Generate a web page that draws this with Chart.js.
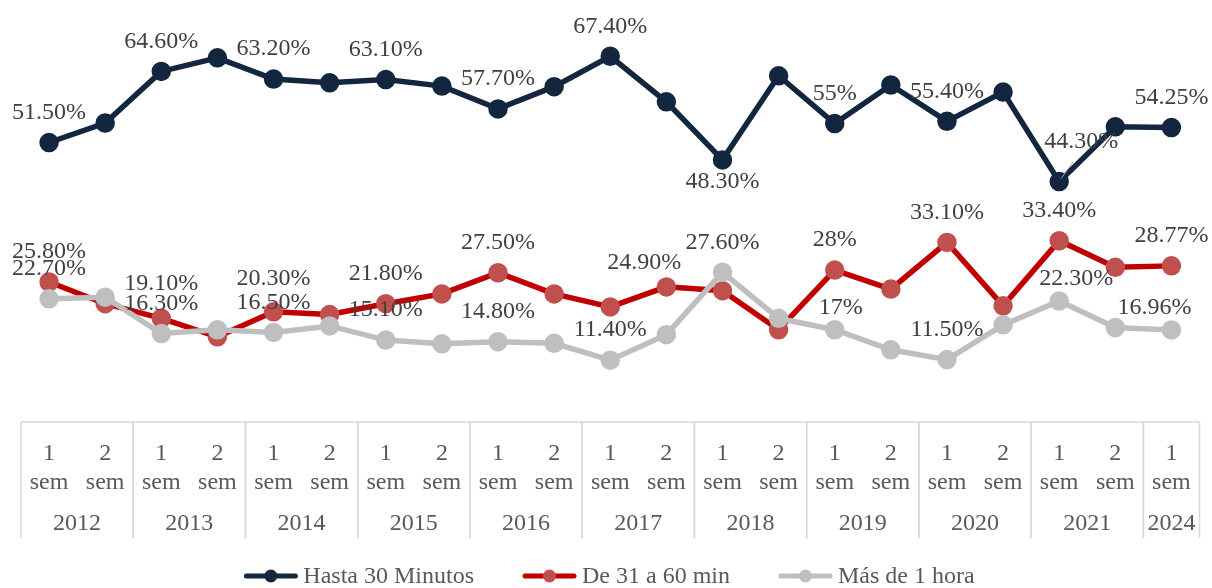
<!DOCTYPE html>
<html>
<head>
<meta charset="utf-8">
<script src="https://cdn.jsdelivr.net/npm/chart.js@4"></script>
<style>
  html, body { margin: 0; padding: 0; background: #ffffff; }
  #wrap { width: 1212px; height: 588px; }
</style>
</head>
<body>
<div id="wrap"><canvas id="myChart" width="1212" height="588"></canvas></div>
<script>
// semester / year of every point
const semesters = ['1','2','1','2','1','2','1','2','1','2','1','2','1','2','1','2','1','2','1','2','1'];
const pointYears = ['2012','2012','2013','2013','2014','2014','2015','2015','2016','2016',
                    '2017','2017','2018','2018','2019','2019','2020','2020','2021','2021','2024'];

// series values (%)
const hasta30 = [51.5, 55.1, 64.6, 67.1, 63.2, 62.5, 63.1, 61.9, 57.7, 61.8, 67.4,
                 59.0, 48.3, 63.8, 55.0, 62.1, 55.4, 60.8, 44.3, 54.4, 54.25];
const de31a60 = [25.8, 21.8, 19.1, 15.7, 20.3, 19.8, 21.8, 23.6, 27.5, 23.6, 21.2,
                 24.9, 24.2, 17.0, 28.0, 24.5, 33.1, 21.4, 33.4, 28.5, 28.77];
const masDe1h = [22.7, 23.0, 16.3, 17.0, 16.5, 17.7, 15.1, 14.4, 14.8, 14.5, 11.4,
                 16.1, 27.6, 19.1, 17.0, 13.3, 11.5, 17.9, 22.3, 17.4, 16.96];

// which points carry a value label
const labeled30 = [0,2,4,6,8,10,12,14,16,18,20];
const labeled60 = [0,2,4,6,8,11,14,16,18,20];
const labeled1h = [0,2,4,6,8,10,12,14,16,18,20];

// label nudges (dx, dy from point), default is above
const nudge = {
  '0-12': [0, 22], '0-18': [22, -40],
  '1-2': [0, -35], '1-4': [0, -33], '1-11': [-22, -24],
  '2-14': [6, -22], '2-18': [17, -22], '2-20': [-17, -22]
};

const FONT = '"Liberation Serif", "DejaVu Serif", serif';
const SIZE = 24;

function fmt(v){
  return Number.isInteger(v) ? v + '%' : v.toFixed(2) + '%';
}

const labelPlugin = {
  id: 'valueLabels',
  afterDatasetsDraw(chart){
    const ctx = chart.ctx;
    const lists = [labeled30, labeled60, labeled1h];
    ctx.save();
    ctx.font = SIZE + 'px ' + FONT;
    ctx.fillStyle = '#404040';
    ctx.textAlign = 'center';
    ctx.textBaseline = 'middle';
    chart.data.datasets.forEach(function(ds, d){
      const meta = chart.getDatasetMeta(d);
      lists[d].forEach(function(i){
        const pt = meta.data[i];
        const n = nudge[d + '-' + i] || [0, -30];
        if (d === 0 && i === 18) {
          ctx.strokeStyle = '#a6a6a6';
          ctx.lineWidth = 1;
          ctx.beginPath();
          ctx.moveTo(pt.x + 2, pt.y - 3);
          ctx.lineTo(pt.x + 14, pt.y - 20);
          ctx.stroke();
        }
        ctx.fillText(fmt(ds.data[i]), pt.x + n[0], pt.y + n[1]);
      });
    });
    ctx.restore();
  }
};

const axisBoxPlugin = {
  id: 'axisBox',
  afterDraw(chart){
    const ctx = chart.ctx;
    const xs = chart.scales.x;
    const area = chart.chartArea;
    const half = (xs.getPixelForValue(1) - xs.getPixelForValue(0)) / 2;
    const top = area.bottom;
    const bottom = 538;
    ctx.save();
    ctx.strokeStyle = '#d9d9d9';
    ctx.lineWidth = 1.5;
    ctx.beginPath();
    ctx.moveTo(area.left, top);
    ctx.lineTo(area.right, top);
    ctx.stroke();

    ctx.font = SIZE + 'px ' + FONT;
    ctx.fillStyle = '#595959';
    ctx.textAlign = 'center';
    ctx.textBaseline = 'middle';
    let start = 0;
    for (let i = 1; i <= pointYears.length; i++) {
      if (i === pointYears.length || pointYears[i] !== pointYears[start]) {
        const x0 = xs.getPixelForValue(start) - half;
        const x1 = xs.getPixelForValue(i - 1) + half;
        ctx.beginPath();
        ctx.moveTo(x0, top); ctx.lineTo(x0, bottom);
        ctx.moveTo(x1, top); ctx.lineTo(x1, bottom);
        ctx.stroke();
        ctx.fillText(pointYears[start], (x0 + x1) / 2, 524);
        start = i;
      }
    }

    // legend
    const names = chart.data.datasets.map(ds => ds.label);
    const lineW = 55, gap = 5, space = 48;
    const widths = names.map(n => ctx.measureText(n).width);
    let total = 0;
    widths.forEach(w => total += lineW + gap + w);
    total += space * (names.length - 1);
    let x = chart.width / 2 + 3 - total / 2;
    const y = 576;
    ctx.textAlign = 'left';
    chart.data.datasets.forEach(function(ds, d){
      ctx.strokeStyle = ds.borderColor;
      ctx.lineWidth = 5;
      ctx.lineCap = 'round';
      ctx.beginPath();
      ctx.moveTo(x + 3, y); ctx.lineTo(x + lineW - 3, y);
      ctx.stroke();
      ctx.fillStyle = ds.pointBackgroundColor;
      ctx.beginPath();
      ctx.arc(x + lineW / 2, y, 6.5, 0, Math.PI * 2);
      ctx.fill();
      ctx.fillStyle = '#595959';
      ctx.fillText(names[d], x + lineW + gap, y + 1);
      x += lineW + gap + widths[d] + space;
    });
    ctx.restore();
  }
};

function graph(){
  const ctx = document.getElementById('myChart').getContext('2d');
  new Chart(ctx, {
    type: 'line',
    data: {
      labels: semesters.map((s, i) => pointYears[i] + ' ' + s),
      datasets: [{
        label: 'Hasta 30 Minutos',
        data: hasta30,
        borderColor: '#12263f',
        pointBackgroundColor: '#12263f',
        pointBorderColor: '#12263f',
        borderWidth: 5.5,
        pointRadius: 7,
        order: 3
      }, {
        label: 'De 31 a 60 min',
        data: de31a60,
        borderColor: '#c00000',
        pointBackgroundColor: '#c0504d',
        pointBorderColor: '#c0504d',
        borderWidth: 5.5,
        pointRadius: 7,
        order: 2
      }, {
        label: 'Más de 1 hora',
        data: masDe1h,
        borderColor: '#bfbfbf',
        pointBackgroundColor: '#bfbfbf',
        pointBorderColor: '#bfbfbf',
        borderWidth: 5.5,
        pointRadius: 7,
        order: 1
      }]
    },
    options: {
      responsive: false,
      animation: false,
      devicePixelRatio: 1,
      layout: { padding: { left: 21, right: 9, top: 15, bottom: 0 } },
      plugins: { legend: { display: false }, tooltip: { enabled: false } },
      scales: {
        y: { display: false, min: 0, max: 75 },
        x: {
          offset: true,
          grid: { display: false },
          border: { display: false },
          ticks: {
            autoSkip: false,
            maxRotation: 0,
            padding: 10,
            color: '#595959',
            font: { family: FONT, size: SIZE, lineHeight: 1.18 },
            callback: function(v, i){ return [semesters[i], 'sem']; }
          },
          afterFit: function(scale){ scale.height = 166; }
        }
      }
    },
    plugins: [labelPlugin, axisBoxPlugin]
  });
}

window.addEventListener('load', graph);
</script>
</body>
</html>
